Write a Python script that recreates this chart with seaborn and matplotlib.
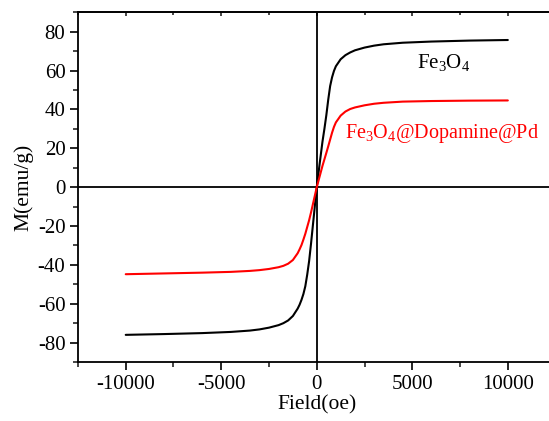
import numpy as np
import pandas as pd
import matplotlib
matplotlib.use("Agg")
import matplotlib.pyplot as plt
from matplotlib.ticker import MultipleLocator
import seaborn as sns

# values (field in oe, M in emu/g)
field = [-10000, -8000, -6000, -4500, -3500, -3000, -2500, -2000, -1750, -1500,
         -1250, -1000, -900, -800, -700, -600, -500, -400, -300, -150,
         0,
         150, 300, 400, 500, 600, 700, 800, 900, 1000, 1250,
         1500, 1750, 2000, 2500, 3000, 3500, 4500, 6000, 8000, 10000]
m_fe3o4 = [-76.0, -75.6, -75.1, -74.5, -73.8, -73.2, -72.3, -71.0, -70.0, -68.6,
           -66.3, -62.5, -60.5, -58.0, -55.0, -51.0, -45.0, -38.0, -29.0, -14.5,
           0.0,
           12.0, 23.5, 30.0, 37.0, 45.0, 52.0, 56.5, 59.8, 62.2, 65.8,
           67.9, 69.3, 70.4, 71.8, 72.8, 73.5, 74.3, 74.9, 75.4, 75.7]
m_fe3o4_pd = [-44.8, -44.4, -44.0, -43.6, -43.1, -42.7, -42.1, -41.2, -40.5, -39.4,
              -37.5, -34.0, -32.0, -29.8, -27.0, -24.0, -20.5, -17.0, -13.0, -6.5,
              0.0,
              5.5, 11.0, 14.3, 17.6, 21.0, 24.5, 28.0, 31.0, 33.3, 36.8,
              38.9, 40.2, 41.0, 42.1, 42.9, 43.4, 44.0, 44.3, 44.5, 44.6]

df = pd.DataFrame({
    "Field": field * 2,
    "M": m_fe3o4 + m_fe3o4_pd,
    "sample": ["Fe3O4"] * len(field) + ["Fe3O4@Dopamine@Pd"] * len(field),
})

sns.set_style("ticks")
plt.rcParams["font.family"] = ["Liberation Serif", "DejaVu Serif"]
plt.rcParams["mathtext.fontset"] = "custom"
plt.rcParams["mathtext.rm"] = "Liberation Serif"
plt.rcParams["mathtext.default"] = "regular"
plt.rcParams["axes.unicode_minus"] = False

fig = plt.figure(figsize=(5.49, 4.21), dpi=100)
ax = fig.add_axes([0.142, 0.140, 0.870, 0.831])

ax.axhline(0, color="black", lw=1.3, zorder=1)
ax.axvline(0, color="black", lw=1.3, zorder=1)

sns.lineplot(data=df, x="Field", y="M", hue="sample", estimator=None, sort=False,
             palette={"Fe3O4": "black", "Fe3O4@Dopamine@Pd": "#ff0000"},
             lw=1.5, legend=False, ax=ax, zorder=3)

ax.set_xlim(-12500, 12500)
ax.set_ylim(-90, 90)
ax.xaxis.set_major_locator(MultipleLocator(5000))
ax.xaxis.set_minor_locator(MultipleLocator(2500))
ax.yaxis.set_major_locator(MultipleLocator(20))
ax.yaxis.set_minor_locator(MultipleLocator(10))

ax.tick_params(axis="both", which="major", direction="out", length=6, width=1.2,
               labelsize=15, colors="black", pad=3)
ax.tick_params(axis="both", which="minor", direction="out", length=3.5, width=1.2)
for s in ["top", "left", "bottom", "right"]:
    ax.spines[s].set_linewidth(1.3)
    ax.spines[s].set_color("black")

# small inward ticks on the top frame
top = ax.secondary_xaxis("top")
top.xaxis.set_major_locator(MultipleLocator(5000))
top.xaxis.set_minor_locator(MultipleLocator(2500))
top.tick_params(which="major", direction="in", length=3, width=1.2, labeltop=False)
top.tick_params(which="minor", direction="in", length=2, width=1.2)
top.spines["top"].set_linewidth(1.3)

ax.set_xlabel("Field(oe)", fontsize=15.5, labelpad=1, color="black")
ax.set_ylabel("M(emu/g)", fontsize=15.5, labelpad=3, color="black")

ax.text(5250, 64, "Fe$_3$O$_4$", fontsize=15, color="black", va="center")
ax.text(1500, 27.5, "Fe$_3$O$_4$@Dopamine@Pd", fontsize=14.5, color="#ff0000", va="center")

fig.savefig("out.png", dpi=100)
